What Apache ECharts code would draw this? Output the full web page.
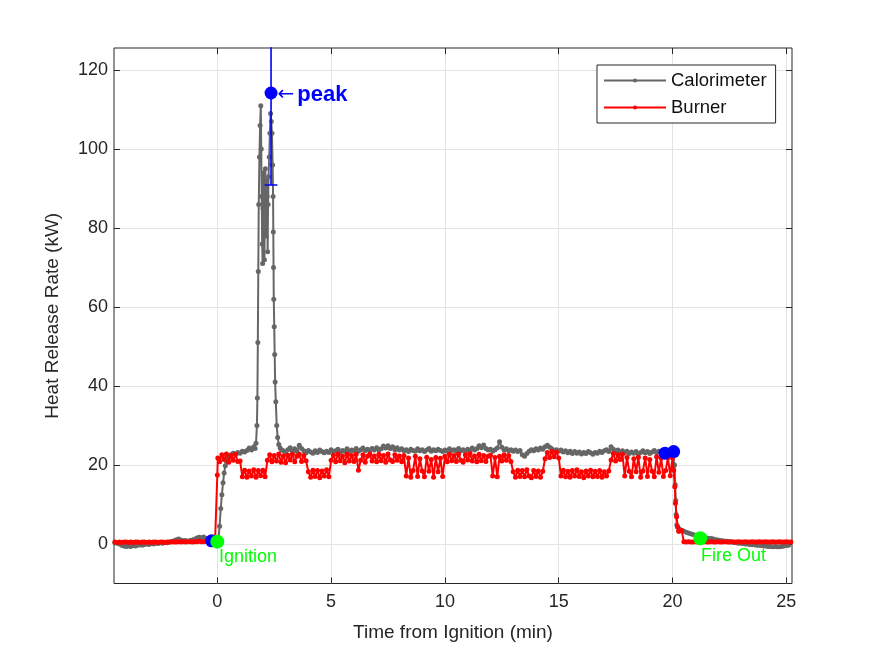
<!DOCTYPE html>
<html><head><meta charset="utf-8">
<script src="https://cdn.jsdelivr.net/npm/echarts@6/dist/echarts.min.js"></script>
<style>html,body{margin:0;padding:0;background:#fff}#c{width:875px;height:656px}</style>
</head><body><div id="c"></div>
<script>
// ---------- tick labels ----------
const xTicks = [0, 5, 10, 15, 20, 25];
const yTicks = [0, 20, 40, 60, 80, 100, 120];

// ---------- Calorimeter (kW), time in minutes ----------
const sampleStep = 0.1;
const calPreStart = -4.5;
const calPre = [0.3,0.2,0.0,-0.3,-0.5,-0.6,-0.5,-0.6,-0.4,-0.5,
  -0.3,-0.2,-0.3,-0.1,0.0,-0.1,0.1,0.0,0.2,0.1,
  0.3,0.2,0.4,0.3,0.5,0.6,0.8,1.1,1.3,1.0,
  0.8,0.9,0.7,0.9,1.0,1.2,1.5,1.7,1.6,1.8,
  1.4,1.1,0.9,0.8,0.7];
const calRise = [[0,0.6],[0.05,1.2],[0.1,4.5],[0.15,9],[0.2,12.5],[0.25,15.5],[0.3,18],[0.35,19.8],
  [0.4,20.9],[0.5,21.9],[0.6,22.6],[0.7,23.0],[0.8,22.7],[0.9,23.2],[1.0,23.0],[1.1,23.5],
  [1.2,23.3],[1.3,23.7],[1.4,24.3],[1.5,23.8],[1.6,24.6],[1.66,24.2]];
const calPeak = [[1.70,25.5],[1.74,30],[1.76,37],[1.78,51],[1.80,69],[1.82,86],[1.85,98],[1.88,106],
  [1.91,111],[1.93,100],[1.95,88],[1.97,76],[1.99,71],[2.01,85],[2.03,94],[2.05,80],[2.07,72],
  [2.09,90],[2.11,95],[2.13,84],[2.15,78],[2.17,92],[2.19,88],[2.21,74],[2.23,86],[2.25,93],
  [2.28,98],[2.31,104],[2.34,109],[2.37,107],[2.40,104],[2.43,96],[2.45,88],[2.46,79],[2.47,70],
  [2.48,62],[2.50,55],[2.52,48],[2.54,41],[2.57,36],[2.61,30],[2.65,27],[2.70,25.2],[2.76,24.3],
  [2.82,23.8]];
const calPlateauStart = 2.9;
const calPlateau = [23.6,23.2,23.9,24.4,23.5,24.1,23.4,25.0,24.2,23.6,
  23.1,23.7,23.3,23.0,23.6,23.2,23.8,23.4,23.1,23.5,
  23.2,23.9,23.4,23.6,24.0,23.3,23.7,23.5,24.1,23.4,
  23.8,23.6,24.2,23.5,23.9,24.3,23.7,24.0,23.6,24.2,
  23.8,24.4,23.9,24.1,24.8,24.3,24.9,24.2,24.6,23.9,
  24.4,23.8,24.1,23.6,23.9,23.4,24.0,23.7,23.5,24.1,
  23.6,23.9,23.4,23.8,24.2,23.5,23.9,23.6,24.0,23.7,
  23.4,23.8,23.5,24.1,23.7,23.9,23.5,24.2,23.6,23.9,
  23.5,24.0,23.7,24.3,23.8,24.1,24.9,24.4,25.1,24.2,
  23.8,24.0,23.5,23.9,24.3,25.9,24.5,23.8,24.1,23.6,
  23.9,23.5,23.8,23.4,23.7,22.6,22.2,22.9,23.5,23.9,
  23.6,24.1,23.8,24.3,24.0,24.6,25.0,24.5,24.1,23.7,
  23.9,23.5,23.8,23.3,23.6,23.1,23.5,22.9,23.4,23.0,
  23.3,22.8,23.2,22.9,23.4,23.1,22.7,23.2,23.0,23.5,
  23.2,23.6,23.9,23.4,24.6,24.0,23.5,23.8,23.3,23.6,
  23.1,23.5,22.9,23.3,23.0,23.4,22.8,23.2,23.6,23.1,
  23.4,22.9,23.3,23.7,23.2,23.5,23.0,23.2];
const calFall = [[19.7,23.0],[19.8,23.3],[19.9,22.9],[20.0,23.1],[20.05,23.4],[20.09,20.0],
  [20.12,15.0],[20.14,11.0],[20.16,7.5],[20.19,4.8],[20.24,4.2]];
const calTailStart = 20.3;
const calTail = [3.8,3.5,3.2,3.0,2.8,2.6,2.4,2.2,2.1,1.9,
  1.8,1.6,1.5,1.4,1.4,1.3,1.1,1.0,0.9,0.8,
  0.7,0.7,0.6,0.5,0.4,0.3,0.2,0.2,0.1,0.0,
  0.0,-0.1,-0.2,-0.2,-0.3,-0.3,-0.4,-0.5,-0.5,-0.6,
  -0.6,-0.7,-0.6,-0.7,-0.7,-0.6,-0.5,-0.4,-0.3];

// ---------- Burner (kW) ----------
const burnPreStart = -4.5;
const burnPre = [0.5,0.4,0.5,0.4,0.5,0.5,0.4,0.5,0.4,0.5,
  0.5,0.4,0.5,0.5,0.4,0.5,0.4,0.5,0.5,0.4,
  0.5,0.5,0.4,0.5,0.5,0.6,0.5,0.5,0.6,0.5,
  0.6,0.5,0.6,0.6,0.5,0.6,0.6,0.7,0.6,0.6,
  0.7,0.6,0.7,0.6,0.7];
const burnStep = [[-0.03,0.6],[0.0,17.5],[0.02,21.8]];
const burnMainStart = 0.1;
const burnMain = [20.8,22.6,21.4,22.8,20.7,22.4,21.2,22.7,20.9,
  21.0,17.0,18.7,16.9,18.5,17.2,18.8,16.9,18.6,17.3,18.7,17.0,
  21.2,22.6,20.8,22.4,21.0,22.8,20.7,22.3,20.6,22.5,21.3,22.7,20.8,22.2,22.7,20.9,22.4,21.1,
  18.3,16.9,18.7,17.1,18.6,16.8,18.5,17.2,18.8,17.0,
  21.2,22.5,20.8,22.8,21.1,22.3,20.6,22.7,21.0,22.4,
  20.9,22.7,18.7,21.2,22.6,20.7,22.2,22.8,21.0,22.3,
  20.8,22.7,21.1,22.4,20.7,22.8,21.3,20.9,22.6,21.2,
  22.3,20.8,22.4,
  17.2,21.8,16.9,18.6,22.2,17.1,21.6,18.5,17.0,22.0,18.4,21.4,16.9,21.9,18.3,21.7,17.1,
  22.2,20.8,22.7,21.1,22.4,20.9,22.8,21.2,20.7,22.6,21.3,22.9,21.0,22.3,20.8,22.7,21.1,22.4,20.9,22.2,22.5,
  17.2,21.9,17.0,22.2,
  21.0,22.6,21.2,22.4,20.9,
  18.3,16.9,18.7,17.1,18.6,17.0,18.8,17.2,16.8,18.6,17.1,18.5,16.9,18.4,
  21.6,23.2,21.9,23.4,22.1,23.3,21.8,
  17.2,18.7,17.0,18.4,16.9,18.6,17.2,18.8,17.1,18.3,16.8,18.5,17.2,18.7,17.0,18.4,17.1,18.6,16.9,18.3,17.2,18.5,
  21.3,22.9,21.0,22.6,21.4,22.7,
  17.2,21.9,18.4,17.0,21.6,18.3,22.0,16.9,18.5,21.8,17.1,21.4,18.4,17.0,22.1,18.2,21.7,17.1,18.6,21.9,17.3];
const burnFall = [[20.0,21.8],[20.05,18.7],[20.1,14.5],[20.13,10.3],[20.18,6.9],[20.22,4.4],[20.27,3.2]];
const burnTailStart = 20.3;
const burnTail = [3.3,3.4,0.6,0.5,0.6,0.5,0.5,0.6,0.5,0.5,
  0.5,0.6,0.5,0.5,0.6,0.5,0.5,0.6,0.5,0.5,
  0.6,0.5,0.5,0.6,0.5,0.5,0.6,0.5,0.5,0.6,
  0.5,0.5,0.6,0.5,0.5,0.6,0.5,0.5,0.6,0.5,
  0.5,0.6,0.5,0.5,0.6,0.5,0.5,0.6,0.5,0.5];

// ---------- annotations ----------
const eventPoints = [[-0.25,0.8],[19.67,23.0],[20.05,23.4]];
const ignitionPoint = [0, 0.6];
const fireOutPoint = [21.22, 1.44];
const peakPoint = [2.36, 114.2];
const peakLow = 90.9;
const peakHigh = 137.5;
const peakCapHalf = 0.28;

function uniform(start, vals) {
  return vals.map((v, i) => [Math.round((start + i * sampleStep) * 100) / 100, v]);
}
const calData = [].concat(uniform(calPreStart, calPre), calRise, calPeak,
  uniform(calPlateauStart, calPlateau), calFall, uniform(calTailStart, calTail));
const burnData = [].concat(uniform(burnPreStart, burnPre), burnStep,
  uniform(burnMainStart, burnMain), burnFall, uniform(burnTailStart, burnTail));

const FONT = "'Liberation Sans', Arial, Helvetica, sans-serif";
const AX = '#262626';
const tickCommon = {show: true, inside: true, length: 6, lineStyle: {color: AX}};
const chart = echarts.init(document.getElementById('c'), null, {renderer: 'canvas'});
chart.setOption({
  animation: false,
  backgroundColor: '#fff',
  grid: {left: 114, top: 48, right: 83, bottom: 72.5, show: true, borderColor: AX, borderWidth: 1, backgroundColor: '#fff'},
  legend: {
    data: ['Calorimeter', 'Burner'], orient: 'vertical', left: 597, top: 65,
    padding: [6, 9, 6, 6], itemWidth: 62, itemHeight: 5, itemGap: 8,
    borderColor: AX, borderWidth: 1, backgroundColor: '#fff', borderRadius: 0,
    textStyle: {fontSize: 18.5, color: '#111', fontFamily: FONT, lineHeight: 18}
  },
  xAxis: [{
    type: 'value', min: -4.54, max: 25.25, position: 'bottom',
    axisLine: {show: false, onZero: false},
    axisTick: Object.assign({customValues: xTicks}, tickCommon),
    axisLabel: {customValues: xTicks, fontSize: 18, color: AX, margin: 10, fontFamily: FONT},
    splitLine: {show: true, lineStyle: {color: '#e3e3e3', width: 1}},
    name: 'Time from Ignition (min)', nameLocation: 'middle', nameGap: 40,
    nameTextStyle: {fontSize: 19, color: AX, fontFamily: FONT}
  }, {
    type: 'value', min: -4.54, max: 25.25, position: 'top',
    axisLine: {show: false, onZero: false},
    axisTick: Object.assign({customValues: xTicks}, tickCommon),
    axisLabel: {show: false}, splitLine: {show: false}
  }],
  yAxis: [{
    type: 'value', min: -10, max: 125.6, position: 'left',
    axisLine: {show: false, onZero: false},
    axisTick: Object.assign({customValues: yTicks}, tickCommon),
    axisLabel: {customValues: yTicks, fontSize: 18, color: AX, margin: 6, fontFamily: FONT},
    splitLine: {show: true, lineStyle: {color: '#e3e3e3', width: 1}},
    name: 'Heat Release Rate (kW)', nameLocation: 'middle', nameGap: 52,
    nameTextStyle: {fontSize: 19, color: AX, fontFamily: FONT}
  }, {
    type: 'value', min: -10, max: 125.6, position: 'right',
    axisLine: {show: false, onZero: false},
    axisTick: Object.assign({customValues: yTicks}, tickCommon),
    axisLabel: {show: false}, splitLine: {show: false}
  }],
  series: [
    {name: 'Calorimeter', type: 'line', data: calData, symbol: 'circle', symbolSize: 5,
     color: '#666666', itemStyle: {color: '#666666'}, lineStyle: {width: 2, color: '#666666'}, silent: true, z: 2},
    {name: 'Burner', type: 'line', data: burnData, symbol: 'circle', symbolSize: 5,
     color: '#ff0000', itemStyle: {color: '#ff0000'}, lineStyle: {width: 2, color: '#ff0000'}, silent: true, z: 3},
    {name: 'events', type: 'scatter', data: eventPoints, symbolSize: 13, itemStyle: {color: '#0000ff', opacity: 1}, silent: true, z: 4},
    {name: 'markers', type: 'scatter', symbolSize: 14, itemStyle: {color: '#00ff00', opacity: 1}, silent: true, z: 5,
     data: [
       {value: ignitionPoint, label: {show: true, formatter: 'Ignition', position: [8.7, 13.3], align: 'left', verticalAlign: 'top', fontSize: 18, color: '#00ff00', fontFamily: FONT}},
       {value: fireOutPoint, label: {show: true, formatter: 'Fire Out', position: [7.7, 15.7], align: 'left', verticalAlign: 'top', fontSize: 18, color: '#00ff00', fontFamily: FONT}}
     ]},
    {name: 'peakbar', type: 'line', data: [[peakPoint[0], peakLow], [peakPoint[0], peakHigh]], symbol: 'none',
     lineStyle: {color: '#0000ff', width: 1.6}, silent: true, z: 6},
    {name: 'peakcap', type: 'line', data: [[peakPoint[0] - peakCapHalf, peakLow], [peakPoint[0] + peakCapHalf, peakLow]], symbol: 'none',
     lineStyle: {color: '#0000ff', width: 1.6}, silent: true, z: 6},
    {name: 'peak', type: 'scatter', data: [peakPoint], symbolSize: 13, itemStyle: {color: '#0000ff', opacity: 1}, silent: true, z: 7,
     label: {show: true, position: 'right', distance: 0, offset: [0, 2], formatter: '{a|←}{b|peak}',
       rich: {a: {fontFamily: "'DejaVu Sans'", fontSize: 20, color: '#0000ff'},
              b: {fontFamily: FONT, fontWeight: 'bold', fontSize: 22, color: '#0000ff', padding: [0, 0, 0, 3]}}}}
  ]
});
</script></body></html>
